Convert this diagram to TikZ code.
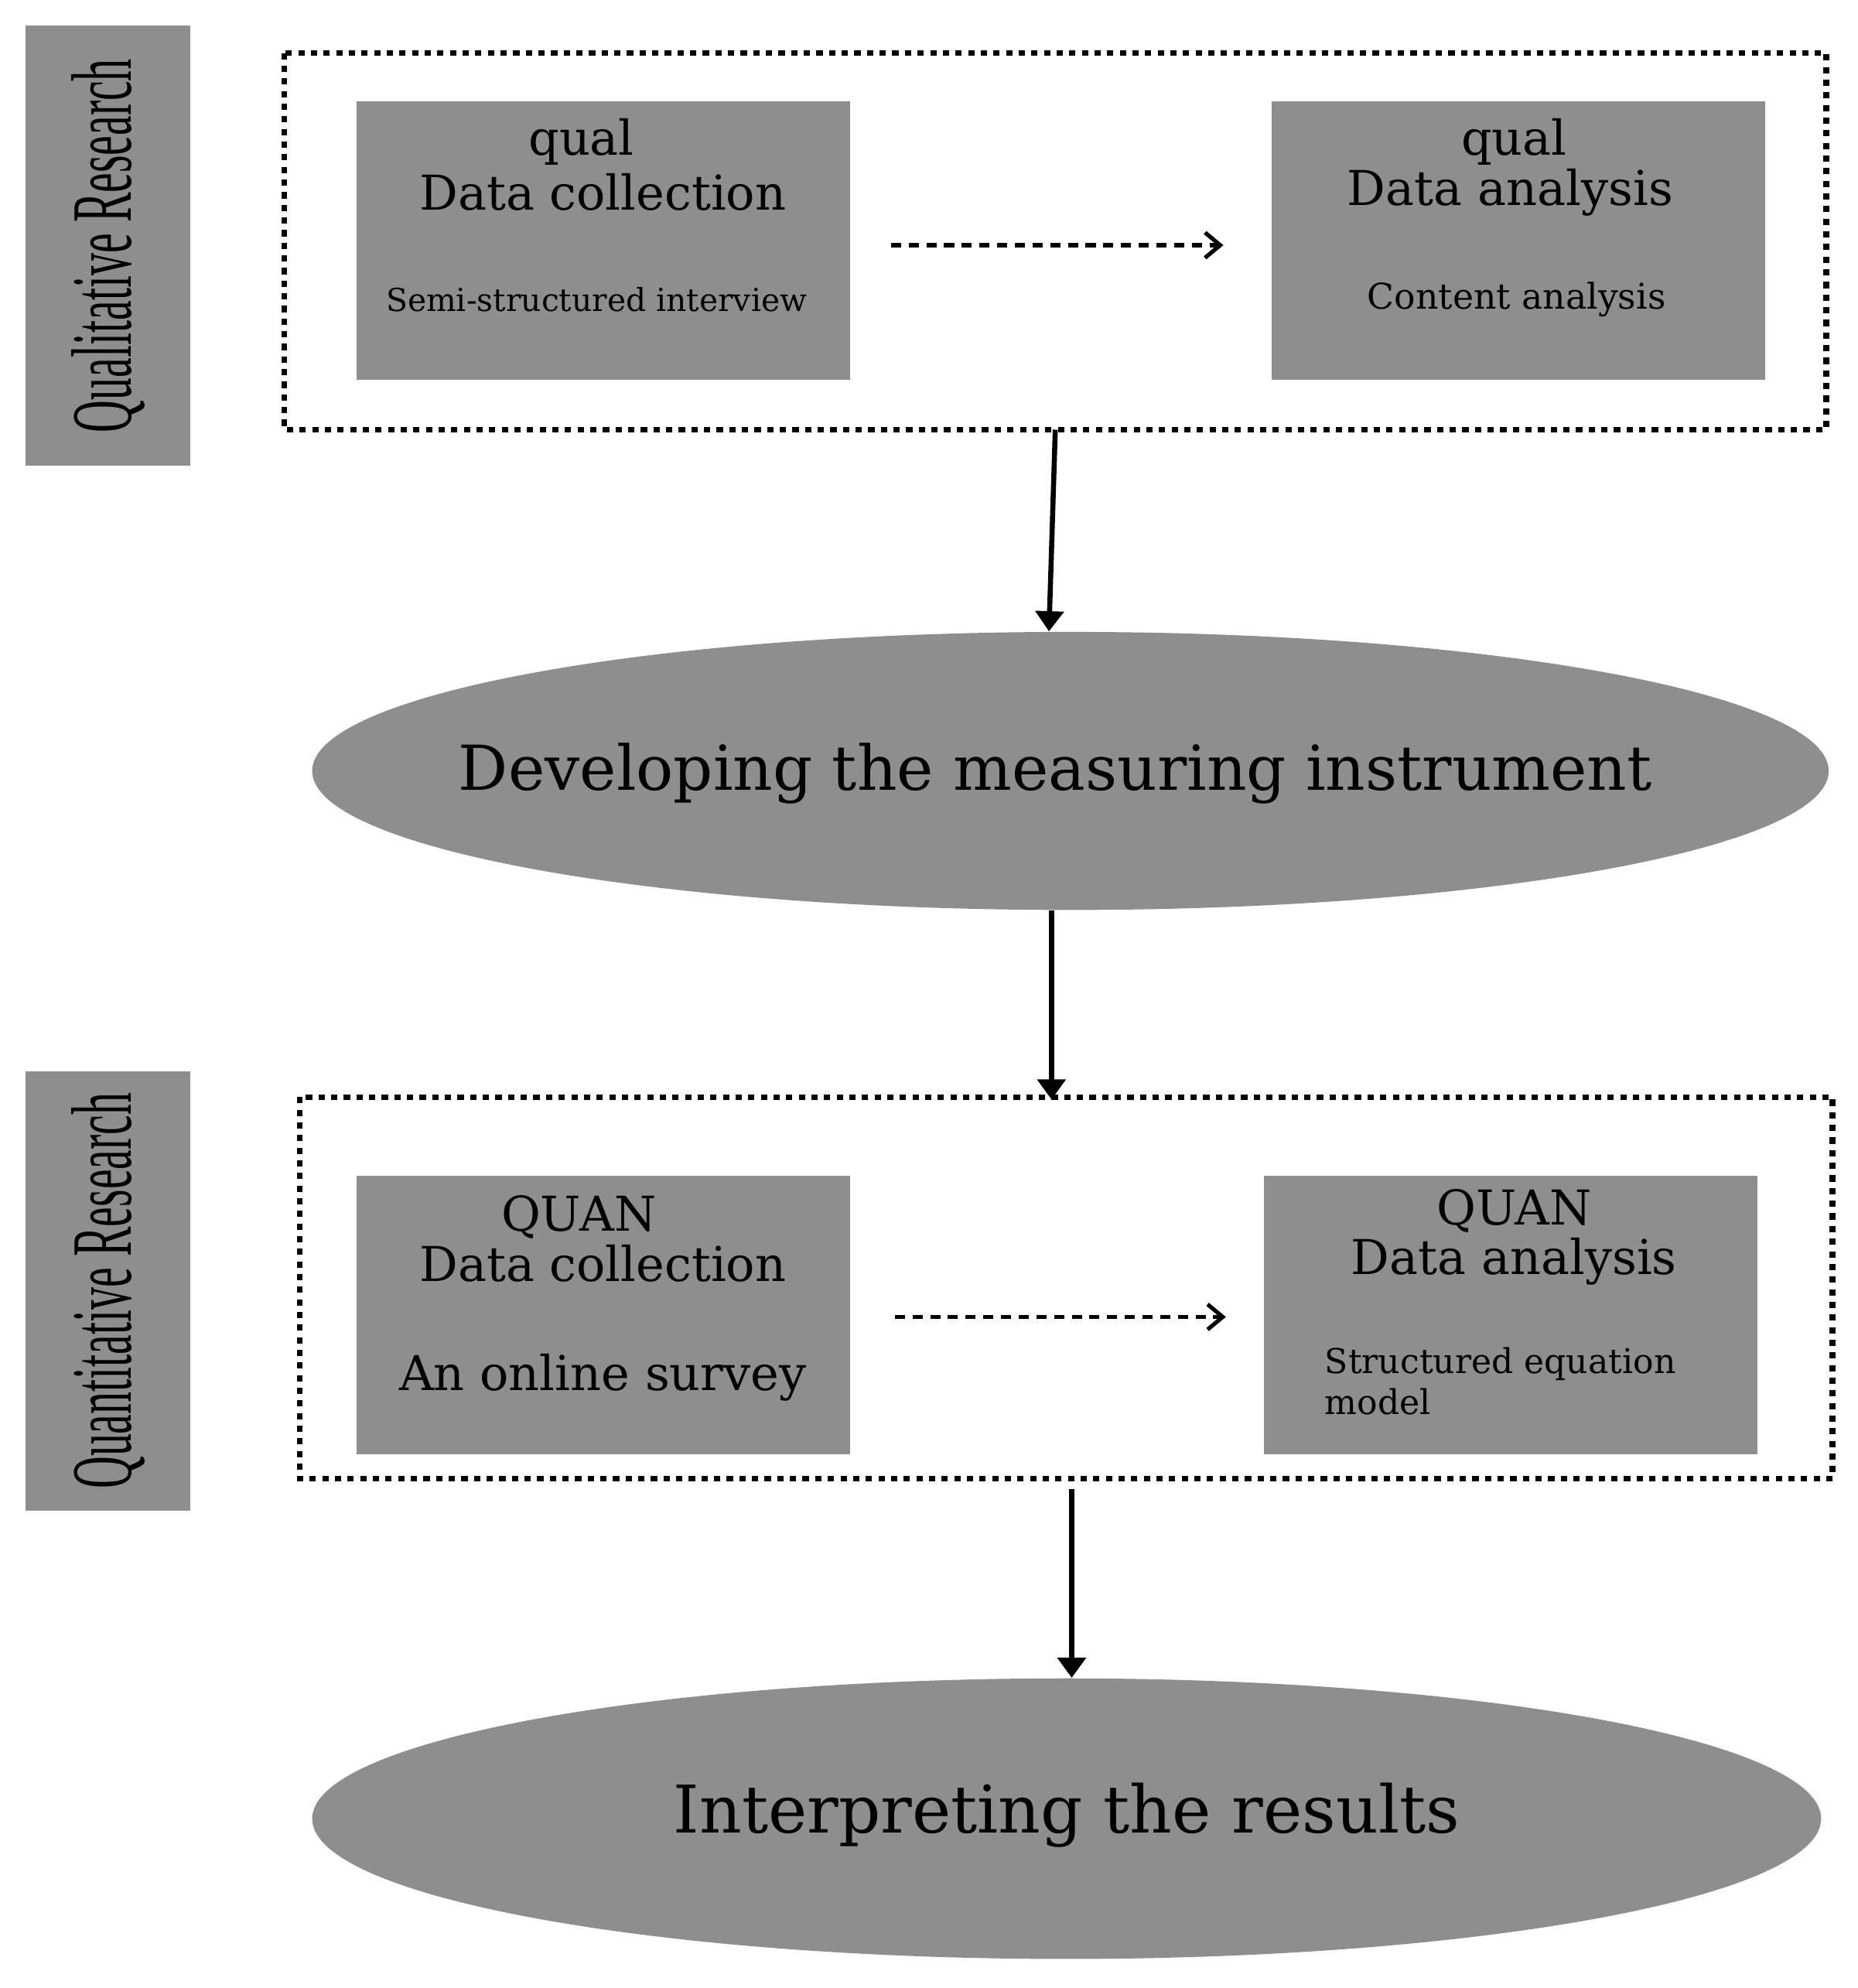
\documentclass[tikz,border=0pt]{standalone}
\usepackage{fontspec}
\setmainfont{DejaVu Serif}
\newfontfamily\tms{Liberation Serif}
\usetikzlibrary{shapes.geometric,arrows.meta}
\definecolor{gr}{HTML}{8E8E8E}
\begin{document}
\begin{tikzpicture}[x=0.5pt,y=-0.5pt,
  box/.style={draw=none,fill=gr,minimum width=195pt,minimum height=110pt,inner sep=0,anchor=north west},
  side/.style={fill=gr,minimum width=65pt,minimum height=174pt,inner sep=0,anchor=north west},
  ell/.style={ellipse,fill=gr,inner sep=0},
  dbox/.style={draw,line width=2.2pt,dash pattern=on 2.5pt off 2.5pt},
  darr/.style={line width=1.6pt,dash pattern=on 4pt off 3pt,-{Straight Barb[length=6pt,width=10pt,line width=1.6pt]}},
  sarr/.style={line width=2pt,-{Triangle[length=8pt,width=11pt]}},
  t/.style={inner sep=0}]
\useasboundingbox (0,0) rectangle (1470,1573);
% side labels
\node[side] (ql) at (20,20) {};
\node[t] at (ql.center) {\rotatebox{90}{\scalebox{0.52}[1]{\fontsize{34}{34}\tms Qualitative Research}}};
\node[side] (qn) at (20,847) {};
\node[t] at (qn.center) {\rotatebox{90}{\scalebox{0.52}[1]{\fontsize{34}{34}\tms Quantitative Research}}};
% dotted frames
\draw[dbox] (225,42) rectangle (1445,340);
\coordinate (f1b) at (835,340);
\draw[dbox] (237,868) rectangle (1450,1170);
\coordinate (f2t) at (832,870);
\coordinate (f2b) at (848,1178);
% qual boxes
\node[box] (b1) at (282,80) {};
\node[t,font=\fontsize{19}{19}\selectfont] at (460,112) {qual};
\node[t,font=\fontsize{19}{19}\selectfont] at (477,152) {Data collection};
\node[t,font=\fontsize{12.5}{12.5}\selectfont] at (472,237) {Semi-structured interview};
\node[box] (b2) at (1006,80) {};
\node[t,font=\fontsize{19}{19}\selectfont] at (1198,112) {qual};
\node[t,font=\fontsize{19}{19}\selectfont] at (1195,152) {Data analysis};
\node[t,font=\fontsize{14}{14}\selectfont] at (1200,237) {Content analysis};
\coordinate (a1s) at (705,194); \coordinate (a1e) at (968,194);
\draw[darr] (a1s) -- (a1e);
% ellipse 1
\node[ell,minimum width=600pt,minimum height=110pt] (e1) at (847,610) {};
\node[t,font=\fontsize{24.5}{24.5}\selectfont] at (835,612) {Developing the measuring instrument};
\draw[sarr] (f1b) -- (e1.north -| 830,0);
\draw[sarr] (e1.south -| 832,0) -- (f2t);
% quan boxes
\node[box] (b3) at (282,930) {};
\node[t,font=\fontsize{19}{19}\selectfont] at (458,963) {QUAN};
\node[t,font=\fontsize{19}{19}\selectfont] at (477,1000) {Data collection};
\node[t,font=\fontsize{19}{19}\selectfont] at (477,1090) {An online survey};
\node[box] (b4) at (1000,930) {};
\node[t,font=\fontsize{19}{19}\selectfont] at (1198,958) {QUAN};
\node[t,font=\fontsize{19}{19}\selectfont] at (1198,998) {Data analysis};
\node[t,font=\fontsize{13.5}{16}\selectfont,align=left,anchor=north west] at (1048,1066) {Structured equation\\model};
\coordinate (a2s) at (708,1042); \coordinate (a2e) at (970,1042);
\draw[darr] (a2s) -- (a2e);
% ellipse 2
\node[ell,minimum width=597pt,minimum height=111pt] (e2) at (844,1439) {};
\node[t,font=\fontsize{26}{26}\selectfont] at (844,1436) {Interpreting the results};
\draw[sarr] (f2b) -- (e2.north -| 848,0);
\end{tikzpicture}
\end{document}
